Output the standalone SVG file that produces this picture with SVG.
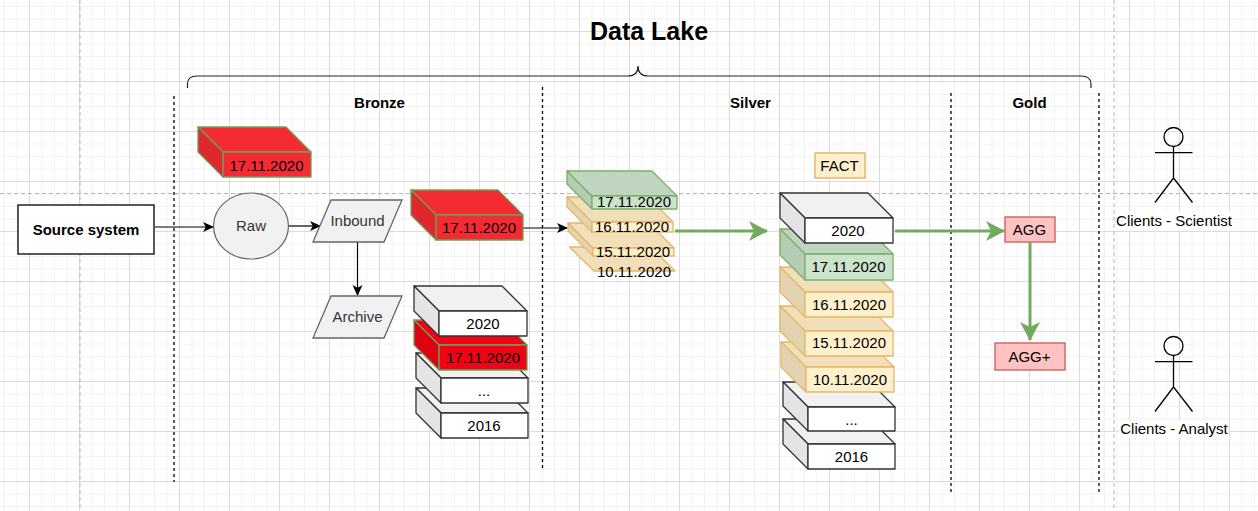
<svg xmlns="http://www.w3.org/2000/svg" width="1258" height="511" viewBox="0 0 1258 511">
<style>
text{font-family:"Liberation Sans",Arial,sans-serif;font-size:15px;fill:#000;text-anchor:middle}
.b{font-weight:bold}
.gr{stroke:#333;stroke-width:1.3;stroke-linejoin:round}
.gr .t{fill:#f1f1f1}.gr .s{fill:#e4e4e4}.gr .f{fill:#fff}
.r{stroke:#6f9e5a;stroke-width:1.3;stroke-linejoin:round}
.r .t,.r .f{fill:#f42b33}.r .s{fill:#e0272e}
.r2{stroke:#6f9e5a;stroke-width:1.3;stroke-linejoin:round}
.r2 .t,.r2 .f{fill:#f00314}.r2 .s{fill:#dc0212}
.g{stroke:#7fae69;stroke-width:1.3;stroke-linejoin:round}
.g .t{fill:#c0d5c0}.g .s{fill:#b5cbb5}.g .f{fill:#cbe3ca}
.o{stroke:#e4b76a;stroke-width:1.3;stroke-linejoin:round}
.o .t{fill:#f1dfba}.o .s{fill:#e3d3b0}.o .f{fill:#fff0cd}
.ps{fill:#f1f1f1;stroke:#666;stroke-width:1.3}
.ag{fill:#ffc2c2;stroke:#cf6b6b;stroke-width:1.5}
.conn{fill:none;stroke:#000;stroke-width:1.2}
.green{fill:none;stroke:#72aa5e;stroke-width:3}
.sec{fill:none;stroke:#000;stroke-width:1.3;stroke-dasharray:3 3}
.guide{fill:none;stroke:#b5b5b5;stroke-width:1;stroke-dasharray:4 3}
.act{fill:none;stroke:#000;stroke-width:1.3}
</style>
<defs>
<pattern id="grid" width="50" height="50" patternUnits="userSpaceOnUse" x="29" y="31">
<path d="M13 0V50M25.500 0V50M38 0V50M0 13H50M0 25.500H50M0 38H50" fill="none" stroke="#f2f2f2" stroke-width="1"/>
<path d="M0.500 0V50M0 0.500H50" fill="none" stroke="#dcdcdc" stroke-width="1"/>
</pattern>
<marker id="ah" markerWidth="12" markerHeight="11" refX="10" refY="5.500" orient="auto" markerUnits="userSpaceOnUse"><path d="M0 0.500L11 5.500L0 10.500L2.800 5.500Z" fill="#000"/></marker>
<marker id="gh" markerWidth="20" markerHeight="20" refX="18" refY="10" orient="auto" markerUnits="userSpaceOnUse"><path d="M0 0L19 10L0 20L5 10Z" fill="#72aa5e"/></marker>
</defs>
<rect width="1258" height="511" fill="#fff"/>
<rect width="1258" height="511" fill="url(#grid)"/>
<g id="guides">
<path class="guide" d="M80 0V511M1114 0V511M0 193.500H1258"/>
</g>
<g id="sections">
<path class="sec" d="M174 96V482M542.500 87V470M951 93V492M1099 93V492"/>
<path d="M187.500 88V84Q187.500 76 197 76H628Q638 76 638 66Q638 76 648 76H1081Q1091 76 1091 84V88" fill="none" stroke="#222" stroke-width="1.200"/>
</g>
<g id="title"><text class="b" x="649" y="40" style="font-size:25px">Data Lake</text></g>
<g id="label-bronze"><text class="b" x="379.500" y="108">Bronze</text></g>
<g id="label-silver"><text class="b" x="750.500" y="108">Silver</text></g>
<g id="label-gold"><text class="b" x="1029.500" y="108">Gold</text></g>

<g id="connectors">
<path class="conn" marker-end="url(#ah)" d="M155 227H213"/>
<path class="conn" marker-end="url(#ah)" d="M289 226H320"/>
<path class="conn" marker-end="url(#ah)" d="M357.500 242V295"/>
<path class="conn" marker-end="url(#ah)" d="M523 228H567"/>
<path class="green" marker-end="url(#gh)" d="M675 231H767"/>
<path class="green" marker-end="url(#gh)" d="M895 231H1004"/>
<path class="green" marker-end="url(#gh)" d="M1030 242V340"/>
</g>

<g id="source-system"><rect x="18" y="205" width="136" height="49" fill="#fff" stroke="#000" stroke-width="1.300"/><text class="b" x="86" y="235">Source system</text></g>
<g id="raw"><ellipse cx="251" cy="226" rx="37.500" ry="33" fill="#f1f1f1" stroke="#666" stroke-width="1.200"/><text x="251" y="231" style="fill:#333">Raw</text></g>
<g id="inbound"><path class="ps" d="M313 242L331 200H402L384 242Z"/><text x="357.500" y="226" style="fill:#333">Inbound</text></g>
<g id="archive"><path class="ps" d="M313 338L331 296H402L384 338Z"/><text x="357.500" y="322" style="fill:#333">Archive</text></g>

<g id="raw-cube" class="r"><path class="t" d="M198 127H286L311 152H223Z"/><path class="s" d="M198 127L223 152V177L198 152Z"/><rect class="f" x="223" y="152" width="88" height="25"/><text x="266.500" y="171" stroke="none">17.11.2020</text></g>
<g id="inbound-cube" class="r"><path class="t" d="M411 190H498L523 215H436Z"/><path class="s" d="M411 190L436 215V240L411 215Z"/><rect class="f" x="436" y="215" width="87" height="25"/><text x="479" y="233" stroke="none">17.11.2020</text></g>

<g id="archive-2016" class="gr"><path class="t" d="M416 388H503L528 413H441Z"/><path class="s" d="M416 388L441 413V438L416 413Z"/><rect class="f" x="441" y="413" width="87" height="25"/><text x="484" y="431" stroke="none">2016</text></g>
<g id="archive-dots" class="gr"><path class="t" d="M416 353H503L528 378H441Z"/><path class="s" d="M416 353L441 378V403L416 378Z"/><rect class="f" x="441" y="378" width="87" height="25"/><text x="484" y="396" stroke="none">...</text></g>
<g id="archive-17" class="r2"><path class="t" d="M414 320H502L527 345H439Z"/><path class="s" d="M414 320L439 345V370L414 345Z"/><rect class="f" x="439" y="345" width="88" height="25"/><text x="483" y="363" stroke="none">17.11.2020</text></g>
<g id="archive-2020" class="gr"><path class="t" d="M414 286H502L527 311H439Z"/><path class="s" d="M414 286L439 311V336L414 311Z"/><rect class="f" x="439" y="311" width="88" height="25"/><text x="483" y="329" stroke="none">2020</text></g>

<g id="s-10" class="o"><path class="t" d="M569.500 247H651L675 271H594Z"/><text x="634" y="277" stroke="none">10.11.2020</text></g>
<g id="s-15" class="o"><path class="s" d="M568 223L593 248V256L568 231Z"/><path class="t" d="M568 223H649L674 248H593Z"/><rect class="f" x="593" y="248" width="81" height="8"/><text x="633" y="257" stroke="none">15.11.2020</text></g>
<g id="s-16" class="o"><path class="s" d="M567 197L592 222V232L567 207Z"/><path class="t" d="M567 197H648L673 222H592Z"/><rect class="f" x="592" y="222" width="81" height="10"/><text x="632" y="232" stroke="none">16.11.2020</text></g>
<g id="s-17" class="g"><path class="s" d="M567 171L592 196V209L567 184Z"/><path class="t" d="M567 171H652L677 196H592Z"/><rect class="f" x="592" y="196" width="85" height="13"/><text x="634" y="207" stroke="none">17.11.2020</text></g>

<g id="fact"><rect x="815" y="153" width="50" height="25" fill="#fff0cd" stroke="#e4b76a" stroke-width="1.500"/><text x="839.500" y="171">FACT</text></g>

<g id="f-2016" class="gr"><path class="t" d="M783 419H870L895 444H808Z"/><path class="s" d="M783 419L808 444V469L783 444Z"/><rect class="f" x="808" y="444" width="87" height="25"/><text x="851.500" y="462" stroke="none">2016</text></g>
<g id="f-dots" class="gr"><path class="t" d="M783 382H870L895 407H808Z"/><path class="s" d="M783 382L808 407V431L783 406Z"/><rect class="f" x="808" y="407" width="87" height="24"/><text x="851.500" y="425" stroke="none">...</text></g>
<g id="f-10" class="o"><path class="t" d="M781 342H869L894 367H806Z"/><path class="s" d="M781 342L806 367V392L781 367Z"/><rect class="f" x="806" y="367" width="88" height="25"/><text x="850" y="385" stroke="none">10.11.2020</text></g>
<g id="f-15" class="o"><path class="t" d="M780 306H868L893 331H805Z"/><path class="s" d="M780 306L805 331V356L780 331Z"/><rect class="f" x="805" y="331" width="88" height="25"/><text x="849" y="348" stroke="none">15.11.2020</text></g>
<g id="f-16" class="o"><path class="t" d="M780 267H868L893 292H805Z"/><path class="s" d="M780 267L805 292V317L780 292Z"/><rect class="f" x="805" y="292" width="88" height="25"/><text x="849" y="310" stroke="none">16.11.2020</text></g>
<g id="f-17" class="g"><path class="t" d="M780 229H868L893 254H805Z"/><path class="s" d="M780 229L805 254V280L780 255Z"/><rect class="f" x="805" y="254" width="88" height="26"/><text x="848.500" y="272" stroke="none">17.11.2020</text></g>
<g id="f-2020" class="gr"><path class="t" d="M780 193H868L893 218H805Z"/><path class="s" d="M780 193L805 218V243L780 218Z"/><rect class="f" x="805" y="218" width="88" height="25"/><text x="848" y="236" stroke="none">2020</text></g>

<g id="agg"><rect class="ag" x="1005" y="217" width="50" height="25"/><text x="1029.500" y="235">AGG</text></g>
<g id="agg-plus"><rect class="ag" x="995" y="343" width="70" height="27"/><text x="1029.500" y="362">AGG+</text></g>

<g id="client-scientist"><circle class="act" cx="1173.500" cy="137" r="9.500"/><path class="act" d="M1173.500 146.500V178M1155 152.700H1192.500M1173.500 178L1155 202.500M1173.500 178L1192.500 202.500"/><rect x="1115" y="212" width="118" height="19" fill="#fff"/><text x="1174" y="226">Clients - Scientist</text></g>
<g id="client-analyst"><circle class="act" cx="1173.500" cy="346" r="9.500"/><path class="act" d="M1173.500 355.500V387M1155 361.700H1192.500M1173.500 387L1155 411.500M1173.500 387L1192.500 411.500"/><rect x="1119" y="420" width="110" height="18" fill="#fff"/><text x="1174" y="434">Clients - Analyst</text></g>
</svg>
